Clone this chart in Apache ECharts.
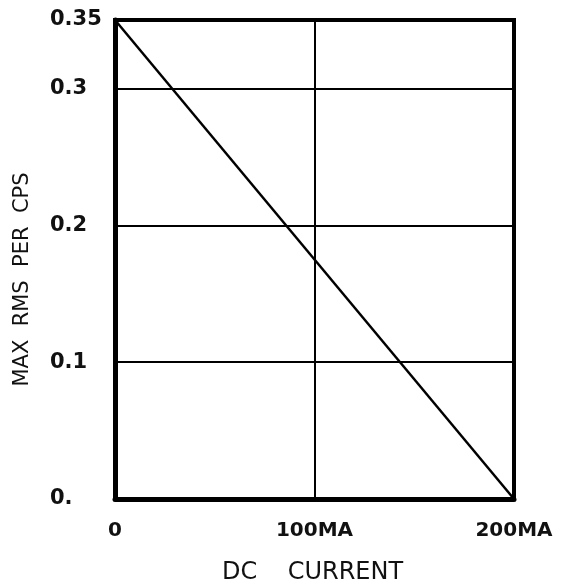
<!DOCTYPE html>
<html>
<head>
<meta charset="utf-8">
<script src="https://cdn.jsdelivr.net/npm/echarts@6/dist/echarts.min.js"></script>
<style>
html,body{margin:0;padding:0;background:#fff;}
#c{width:577px;height:584px;}
</style>
</head>
<body>
<div id="c"></div>
<script>
// Data
var xValues = [0, 200];
var yValues = [0.35, 0];
var xTickValues = [0, 100, 200];
var xTickLabels = ['0', '100MA', '200MA'];
var yTickValues = [0, 0.1, 0.2, 0.3, 0.35];
var yTickLabels = ['0.', '0.1', '0.2', '0.3', '0.35'];
var xName = 'DC    CURRENT';
var yName = 'MAX  RMS  PER  CPS';

var lineData = xValues.map(function (x, i) { return [x, yValues[i]]; });

var FONT = 'DejaVu Sans';
var chart = echarts.init(document.getElementById('c'), null, {renderer: 'canvas'});
chart.setOption({
  backgroundColor: '#fff',
  animation: false,
  grid: {
    left: 115, right: 63, top: 20, bottom: 85,
    outerBoundsMode: 'none', containLabel: false,
    show: true, borderColor: '#000', borderWidth: 4, backgroundColor: 'transparent'
  },
  xAxis: {
    type: 'value', min: 0, max: 200, interval: 100,
    name: xName, nameLocation: 'middle', nameGap: 62,
    nameTextStyle: {fontFamily: FONT, fontSize: 24, color: '#111', padding: [0, 4, 0, 0]},
    axisLine: {show: true, lineStyle: {color: '#000', width: 5}},
    axisTick: {show: false},
    splitLine: {show: true, lineStyle: {color: '#000', width: 2}},
    axisLabel: {
      margin: 22, fontFamily: FONT, fontSize: 20, fontWeight: 'bold', color: '#111',
      customValues: xTickValues,
      formatter: function (v) { var i = xTickValues.indexOf(v); return i >= 0 ? xTickLabels[i] : ''; }
    }
  },
  yAxis: {
    type: 'value', min: 0, max: 0.35, interval: 0.1,
    name: yName, nameLocation: 'middle', nameGap: 82, nameRotate: 90,
    nameTextStyle: {fontFamily: FONT, fontSize: 21, color: '#111', padding: [0, 40, 0, 0]},
    axisLine: {show: true, lineStyle: {color: '#000', width: 5}},
    axisTick: {show: false},
    splitLine: {show: true, lineStyle: {color: '#000', width: 2}},
    axisLabel: {
      margin: 65, align: 'left', fontFamily: FONT, fontSize: 21, fontWeight: 'bold', color: '#111',
      customValues: yTickValues,
      formatter: function (v) {
        for (var i = 0; i < yTickValues.length; i++) { if (Math.abs(yTickValues[i] - v) < 1e-9) return yTickLabels[i]; }
        return '';
      }
    }
  },
  series: [{
    type: 'line', data: lineData, symbol: 'none',
    lineStyle: {color: '#000', width: 2.5}
  }]
});
</script>
</body>
</html>
